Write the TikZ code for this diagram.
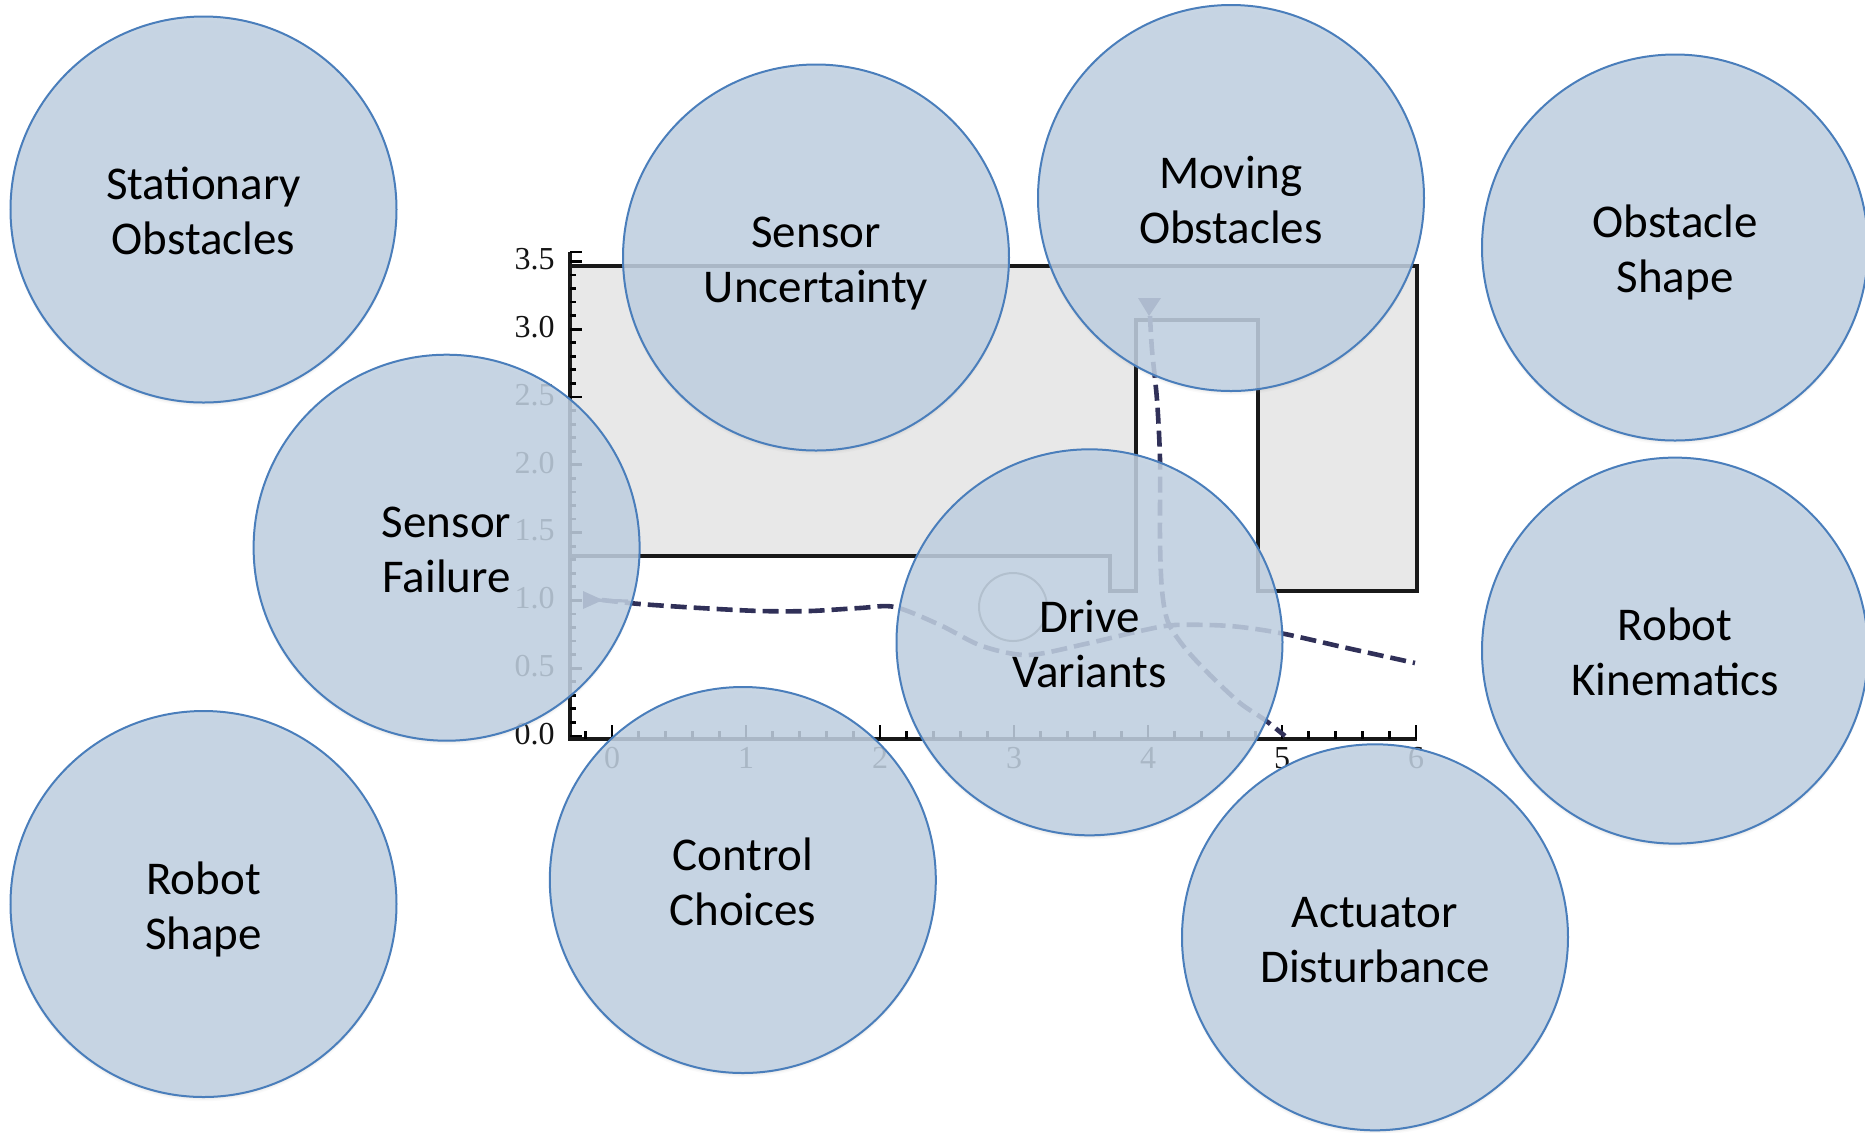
\documentclass[tikz,border=0pt]{standalone}
\usepackage{fontspec}
\setmainfont{Carlito}
\newfontfamily\plotfont{Liberation Serif}
\usetikzlibrary{shadows}
\definecolor{bubblefill}{RGB}{193,209,226}
\definecolor{bubbleline}{RGB}{74,126,187}
\definecolor{pathcol}{RGB}{48,48,88}
\definecolor{obstfill}{RGB}{232,232,232}
\newcommand\bst{\rule[-5pt]{0pt}{27.5pt}}
\begin{document}
\begin{tikzpicture}[x=0.5pt,y=-0.5pt,
  bubble/.style={circle, minimum size=193pt, inner sep=0pt, draw=bubbleline, line width=1pt,
    fill=bubblefill, fill opacity=0.85, text opacity=1, align=center, text=black,
    font=\fontsize{23.5}{27.5}\selectfont,
    drop shadow={shadow xshift=0pt,shadow yshift=-0.7pt,opacity=0.08},
    drop shadow={shadow xshift=0pt,shadow yshift=-1.4pt,opacity=0.06},
    drop shadow={shadow xshift=0pt,shadow yshift=-2.1pt,opacity=0.04}},
  frameline/.style={line width=1.8pt, draw=black!90},
  tickmark/.style={line width=1.4pt, draw=black},
  ticklabel/.style={font=\plotfont\fontsize{16}{18}\selectfont, text=black!92, inner sep=0pt},
  robotpath/.style={draw=pathcol, line width=2.3pt, dash pattern=on 8pt off 3.5pt},
]
\useasboundingbox (0,0) rectangle (1865,1132);
\fill[white] (0,0) rectangle (1865,1132);

% obstacle region of the plot
\fill[obstfill] (570,266) -- (1417,266) -- (1417,591) -- (1258,591) -- (1258,320) -- (1136,320) -- (1136,591) -- (1110,591) -- (1110,556) -- (570,556) -- cycle;
\draw[frameline] (570,266) -- (1417,266) -- (1417,591) -- (1258,591) -- (1258,320) -- (1136,320) -- (1136,591) -- (1110,591) -- (1110,556) -- (570,556);

% small round obstacle
\draw[line width=1pt, draw=black!65] (1013,607) circle[radius=17pt];

% axes
\draw[frameline] (570,252) -- (570,739) -- (1417,739);
\foreach \i in {0,...,35}{
  \pgfmathsetmacro\yy{736-13.56*\i}
  \pgfmathsetmacro\len{ifthenelse(mod(\i,5)==0,12,6)}
  \draw[tickmark] (570,\yy) -- ++(\len,0);
}
\draw[tickmark] (570,252) -- ++(12,0);
\foreach \i in {-1,...,30}{
  \pgfmathsetmacro\xx{612+26.8*\i}
  \pgfmathsetmacro\len{ifthenelse(mod(\i,5)==0,14,8)}
  \draw[tickmark] (\xx,739) -- ++(0,-\len);
}
\foreach \v/\t [count=\k] in {0/0.0,0.5/0.5,1/1.0,1.5/1.5,2/2.0,2.5/2.5,3/3.0,3.5/3.5}{
  \node[ticklabel, anchor=east] (yl\k) at (555,{734-135.6*\v}) {\t};
}
\foreach \u in {0,...,6}{
  \node[ticklabel] (xl\u) at ({612+134*\u},758) {\u};
}

% robot paths
\draw[robotpath] plot[smooth, tension=0.5] coordinates {(602,600) (640,604) (700,608) (760,611) (810,611) (860,608) (895,607) (940,625) (982,646) (1028,655) (1085,644) (1140,631) (1175,625) (1230,626) (1280,633) (1347,648) (1415,663)};
\fill[pathcol] (583,591) -- (603,600) -- (583,609) -- cycle;
\draw[pathcol, line width=1.6pt] (590,600) -- (628,601);
\draw[robotpath] plot[smooth, tension=0.5] coordinates {(1150,316) (1152,350) (1157,400) (1160,460) (1160,540) (1162,590) (1168,622) (1185,648) (1210,675) (1240,703) (1265,720) (1285,736)};
\fill[pathcol] (1138,298) -- (1161,298) -- (1149,316) -- cycle;

% bubbles
\node[bubble] (stat)  at (203.5,209.5) {\bst Stationary\\\bst Obstacles};
\node[bubble] (sunc)  at (816,257.5)   {\bst Sensor\\\bst Uncertainty};
\node[bubble] (mov)   at (1231,198)    {\bst Moving\\\bst Obstacles};
\node[bubble] (oshape) at (1675,247.5) {\bst Obstacle\\\bst Shape};
\node[bubble] (sfail) at (446.6,547.7) {\bst Sensor\\\bst Failure};
\node[bubble] (drive) at (1089.5,642.3) {\bst Drive\\\bst Variants};
\node[bubble] (kin)   at (1675,650.6)  {\bst Robot\\\bst Kinematics};
\node[bubble] (rshape) at (203.5,904)  {\bst Robot\\\bst Shape};
\node[bubble] (ctrl)  at (742.8,880)   {\bst Control\\\bst Choices};
\node[bubble] (act)   at (1375,937.3)  {\bst Actuator\\\bst Disturbance};
\end{tikzpicture}
\end{document}
